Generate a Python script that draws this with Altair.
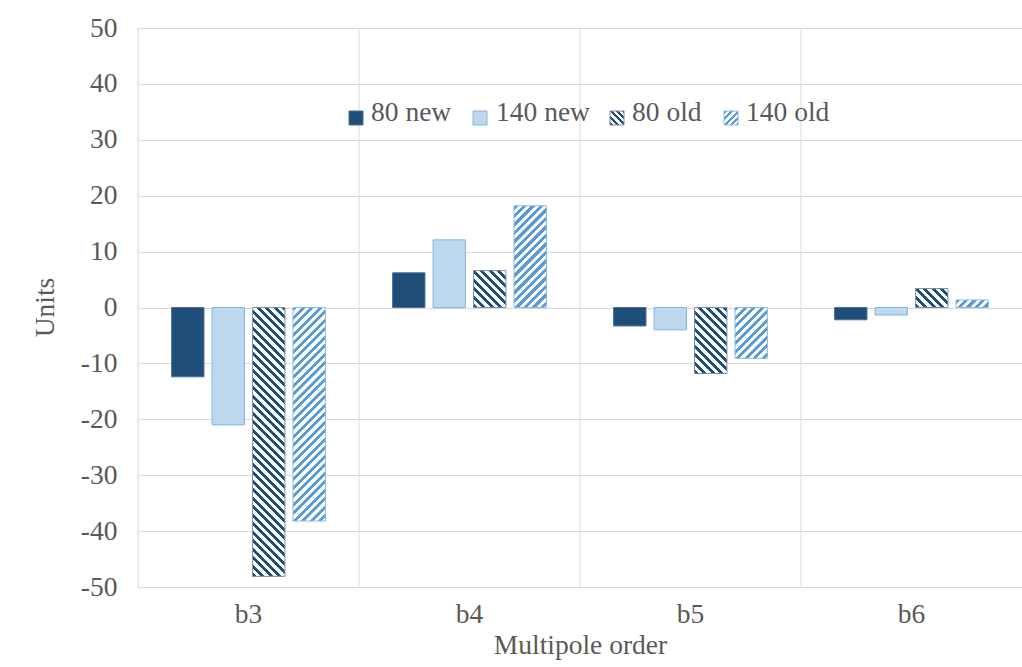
import altair as alt
import pandas as pd

# ---------------- data ----------------
categories = ["b3", "b4", "b5", "b6"]
series_names = ["80 new", "140 new", "80 old", "140 old"]
vals_80_new = [-12.4, 6.2, -3.3, -2.2]
vals_140_new = [-21.0, 12.1, -4.0, -1.35]
vals_80_old = [-48.1, 6.6, -11.8, 3.4]
vals_140_old = [-38.2, 18.2, -9.1, 1.35]
y_ticks = [-50, -40, -30, -20, -10, 0, 10, 20, 30, 40, 50]

series_values = {
    "80 new": vals_80_new,
    "140 new": vals_140_new,
    "80 old": vals_80_old,
    "140 old": vals_140_old,
}

rows = []
for s in series_names:
    for c, v in zip(categories, series_values[s]):
        rows.append({"cat": c, "series": s, "value": v})
df = pd.DataFrame(rows)

# ---------------- styling ----------------
FONT = "Liberation Serif"
TXT = "#595959"
GRID = "#D9D9D9"
FS = 27.5
W, H = 884, 559
PAD_IN, PAD_OUT = 0.2, 0.83

fill_new = {"80 new": "#1F4E79", "140 new": "#BDD7EE"}
stroke_new = {"80 new": "#4A6F96", "140 new": "#86B4E0"}
stripe = {"80 old": "#1F4E79", "140 old": "#5B9BD5"}
stroke_old = {"80 old": "#7F8DA3", "140 old": "#8DB8E2"}
direction = {"80 old": "down", "140 old": "up"}


def hatch(w, h, kind, color, period=8.5, duty=0.5, bg="#FFFFFF"):
    w = max(w, 1.0)
    h = max(h, 1.0)
    k = (w + h) / (w * w + h * h)
    if kind == "down":
        x1, y1, x2, y2 = 0.0, 1.0, k * w, 1.0 - k * h
    else:
        x1, y1, x2, y2 = 0.0, 0.0, k * w, k * h
    n = (w + h) / period
    d = 1.0 / n
    stops = []
    i = 0
    while i * d < 1.0:
        a = i * d
        b = min(a + duty * d, 1.0)
        c = min((i + 1) * d, 1.0)
        stops += [
            {"offset": round(a, 5), "color": color},
            {"offset": round(b, 5), "color": color},
            {"offset": round(b, 5), "color": bg},
            {"offset": round(c, 5), "color": bg},
        ]
        i += 1
    return {"gradient": "linear", "x1": x1, "y1": y1, "x2": x2, "y2": y2, "stops": stops}


x_axis = alt.Axis(
    title="Multipole order",
    labelAngle=0,
    labelFont=FONT,
    labelFontSize=FS,
    labelColor=TXT,
    labelPadding=13,
    ticks=False,
    grid=False,
    domain=True,
    domainColor=GRID,
    titleFont=FONT,
    titleFontSize=FS,
    titleFontWeight="normal",
    titleColor=TXT,
    titleY=58,
    titleBaseline="middle",
)
x_scale = alt.Scale(domain=categories, paddingInner=0, paddingOuter=0)
x_enc = alt.X("cat:N", sort=categories, scale=x_scale, axis=x_axis)

y_enc = alt.Y(
    "value:Q",
    scale=alt.Scale(domain=[-50, 50], nice=False, zero=False),
    axis=alt.Axis(
        values=y_ticks,
        labelExpr="'' + datum.value",
        title="Units",
        grid=True,
        gridColor=GRID,
        domain=False,
        ticks=False,
        labelFont=FONT,
        labelFontSize=FS,
        labelColor=TXT,
        labelPadding=21,
        titleFont=FONT,
        titleFontSize=FS,
        titleFontWeight="normal",
        titleColor=TXT,
        titleX=-93,
        titleY=279,
        titleAngle=-90,
        titleAlign="center",
        titleBaseline="middle",
    ),
)
xo_enc = alt.XOffset(
    "series:N",
    sort=series_names,
    scale=alt.Scale(domain=series_names, paddingInner=PAD_IN, paddingOuter=PAD_OUT),
)

layers = []

# vertical gridlines at category boundaries
grid_v = (
    alt.Chart(pd.DataFrame({"cat": categories}))
    .mark_rule(color=GRID, strokeWidth=1)
    .encode(x=alt.X("cat:N", sort=categories, bandPosition=0, scale=x_scale, axis=x_axis))
)
layers.append(grid_v)

# solid bars
new_bars = (
    alt.Chart(df)
    .transform_filter(alt.FieldOneOfPredicate(field="series", oneOf=["80 new", "140 new"]))
    .mark_bar(strokeWidth=1)
    .encode(
        x=x_enc,
        y=y_enc,
        y2=alt.datum(0),
        xOffset=xo_enc,
        fill=alt.Fill("series:N", scale=alt.Scale(domain=["80 new", "140 new"],
                                                  range=[fill_new["80 new"], fill_new["140 new"]]),
                      legend=None),
        stroke=alt.Stroke("series:N", scale=alt.Scale(domain=["80 new", "140 new"],
                                                      range=[stroke_new["80 new"], stroke_new["140 new"]]),
                          legend=None),
    )
)
layers.append(new_bars)

# hatched bars (one layer per bar so the stripe spacing fits each bar)
step = (W / len(categories)) / (len(series_names) - PAD_IN + 2 * PAD_OUT)
bar_w = step * (1 - PAD_IN)
for s in ["80 old", "140 old"]:
    for c, v in zip(categories, series_values[s]):
        h_px = abs(v) * H / 100.0
        bar = (
            alt.Chart(df)
            .transform_filter((alt.datum.series == s) & (alt.datum.cat == c))
            .mark_bar(fill=hatch(bar_w, h_px, direction[s], stripe[s]),
                      stroke=stroke_old[s], strokeWidth=1)
            .encode(x=x_enc, y=y_enc, y2=alt.datum(0), xOffset=xo_enc)
        )
        layers.append(bar)

# legend (drawn manually to show hatch patterns); positions in plot pixels
leg_sym_x = [211, 335, 472, 586]
leg_txt_x = [233, 358, 494, 608]
SYM_Y = 83
TXT_Y = 85
SYM = 14
for i, s in enumerate(series_names):
    if s in fill_new:
        fill = fill_new[s]
        strk = stroke_new[s]
    else:
        fill = hatch(SYM, SYM, direction[s], stripe[s], period=6.5)
        strk = stroke_old[s]
    sym = (
        alt.Chart(pd.DataFrame({"label": [s]}))
        .mark_rect(fill=fill, stroke=strk, strokeWidth=1)
        .encode(
            x=alt.value(leg_sym_x[i]),
            x2=alt.value(leg_sym_x[i] + SYM),
            y=alt.value(SYM_Y),
            y2=alt.value(SYM_Y + SYM),
        )
    )
    txt = (
        alt.Chart(pd.DataFrame({"label": [s]}))
        .mark_text(font=FONT, fontSize=FS, color=TXT, align="left", baseline="middle")
        .encode(
            x=alt.value(leg_txt_x[i]),
            y=alt.value(TXT_Y),
            text="label:N",
        )
    )
    layers += [sym, txt]

chart = (
    alt.layer(*layers)
    .resolve_scale(fill="independent", stroke="independent")
    .properties(
        width=W,
        height=H,
        padding={"left": 138, "top": 28, "right": 0, "bottom": 80},
        autosize=alt.AutoSizeParams(type="none"),
        background="white",
    )
    .configure_view(stroke=None)
)

chart.save("out.html", embed_options={"renderer": "svg", "actions": False})
